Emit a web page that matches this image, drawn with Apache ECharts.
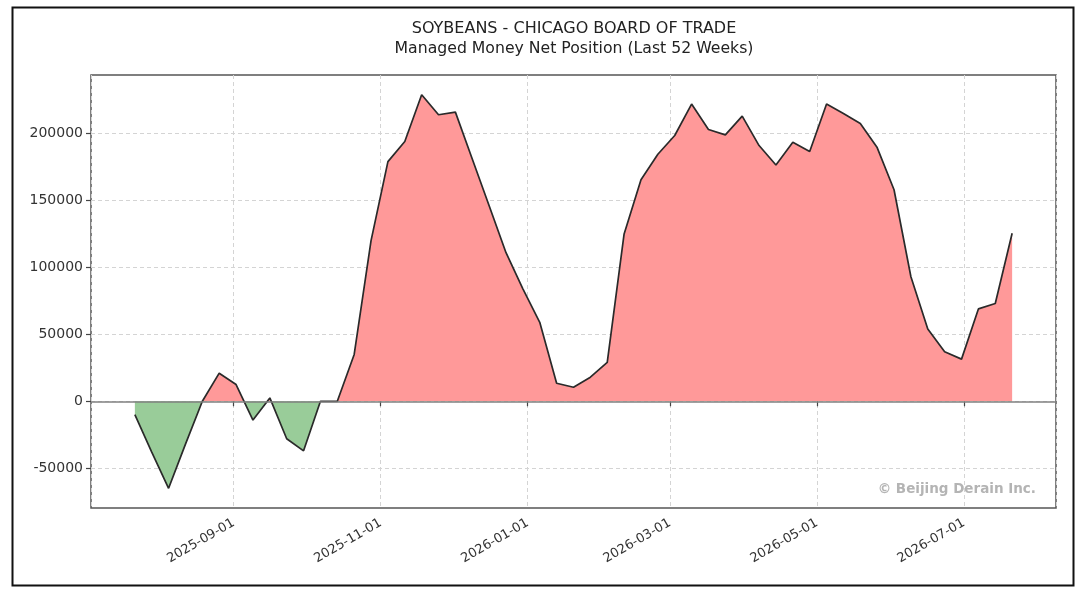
<!DOCTYPE html>
<html>
<head>
<meta charset="utf-8">
<title>Soybeans CBOT Managed Money</title>
<script src="https://cdn.jsdelivr.net/npm/echarts@6.0.0/dist/echarts.min.js"></script>
<style>
  html, body { margin: 0; padding: 0; background: #fff; }
  #main { width: 1083px; height: 595px; }
</style>
</head>
<body>
<div id="main"></div>
<script>
// weekly report dates (Tuesdays)
var weeks = [
    '2025-07-22', '2025-07-29', '2025-08-05', '2025-08-12', '2025-08-19', '2025-08-26',
    '2025-09-02', '2025-09-09', '2025-09-16', '2025-09-23', '2025-09-30',
    '2025-10-07', '2025-10-14', '2025-10-21', '2025-10-28',
    '2025-11-04', '2025-11-11', '2025-11-18', '2025-11-25',
    '2025-12-02', '2025-12-09', '2025-12-16', '2025-12-23', '2025-12-30',
    '2026-01-06', '2026-01-13', '2026-01-20', '2026-01-27',
    '2026-02-03', '2026-02-10', '2026-02-17', '2026-02-24',
    '2026-03-03', '2026-03-10', '2026-03-17', '2026-03-24', '2026-03-31',
    '2026-04-07', '2026-04-14', '2026-04-21', '2026-04-28',
    '2026-05-05', '2026-05-12', '2026-05-19', '2026-05-26',
    '2026-06-02', '2026-06-09', '2026-06-16', '2026-06-23', '2026-06-30',
    '2026-07-07', '2026-07-14', '2026-07-21'
];

// managed money net position (contracts)
var netPosition = [
    -10000, -38000, -65000, -32000, 0, 21000,
    12500, -14000, 2500, -28000, -37000,
    0, 0, 35000, 120000,
    179000, 194000, 229000, 214000,
    216000, 181000, 146000, 111000, 84000,
    59000, 13500, 10500, 18000,
    29000, 125000, 165500, 184500,
    198500, 222000, 203000, 199000, 213000,
    191000, 176500, 193500, 186500,
    222000, 215000, 207500, 189500,
    158000, 93000, 54000, 37000, 31500,
    69000, 73000, 125500
];

var yTicks = [-50000, 0, 50000, 100000, 150000, 200000];

function ts(s) {
    var p = s.split('-');
    return Date.UTC(+p[0], +p[1] - 1, +p[2]);
}

function fmtDate(v) {
    var d = new Date(v);
    var m = d.getUTCMonth() + 1, day = d.getUTCDate();
    return d.getUTCFullYear() + '-' + (m < 10 ? '0' + m : m) + '-' + (day < 10 ? '0' + day : day);
}

var seriesData = weeks.map(function (w, i) { return [ts(w), netPosition[i]]; });

// 5% padding either side, like matplotlib's autoscale
var xFirst = ts(weeks[0]), xLast = ts(weeks[weeks.length - 1]);
var xPad = (xLast - xFirst) * 0.05;
var yMax = Math.max.apply(null, netPosition), yMin = Math.min.apply(null, netPosition);
var yPad = (yMax - yMin) * 0.05;

var font = 'DejaVu Sans';

var myChart = echarts.init(document.getElementById('main'));
var option = {
    useUTC: true,
    animation: false,
    backgroundColor: '#ffffff',
    title: {
        text: 'SOYBEANS - CHICAGO BOARD OF TRADE',
        subtext: 'Managed Money Net Position (Last 52 Weeks)',
        left: 569,
        top: 16,
        textAlign: 'center',
        itemGap: 4,
        textStyle: { fontFamily: font, fontSize: 16, fontWeight: 'normal', color: '#222' },
        subtextStyle: { fontFamily: font, fontSize: 15.7, color: '#222' }
    },
    grid: {
        left: 91,
        right: 27,
        top: 75,
        bottom: 87,
        show: true,
        borderColor: '#555',
        borderWidth: 1.5,
        backgroundColor: '#fff'
    },
    visualMap: {
        show: false,
        type: 'piecewise',
        seriesIndex: 0,
        dimension: 1,
        pieces: [
            { gte: -1000000, lte: 0, color: '#99cc99' },
            { gt: 0, lte: 1000000, color: '#ff9999' }
        ]
    },
    xAxis: {
        type: 'time',
        min: xFirst - xPad,
        max: xLast + xPad,
        axisLine: { show: false },
        axisTick: {
            show: true,
            length: 5,
            lineStyle: { color: '#444', width: 1.2 }
        },
        axisLabel: {
            rotate: 30,
            margin: 14,
            fontFamily: font,
            fontSize: 13,
            color: '#333',
            formatter: fmtDate
        },
        splitLine: {
            show: true,
            lineStyle: { color: '#d4d4d4', type: [4, 3], width: 1 }
        }
    },
    yAxis: {
        type: 'value',
        min: yMin - yPad,
        max: yMax + yPad,
        axisLine: { show: false },
        axisTick: {
            show: true,
            length: 5,
            customValues: yTicks,
            lineStyle: { color: '#444', width: 1.2 }
        },
        axisLabel: {
            customValues: yTicks,
            margin: 8,
            fontFamily: font,
            fontSize: 14,
            color: '#333',
            formatter: function (v) { return String(Math.round(v)); }
        },
        splitLine: {
            show: true,
            lineStyle: { color: '#d4d4d4', type: [4, 3], width: 1 }
        }
    },
    series: [
        {
            name: 'Net Position',
            type: 'line',
            data: seriesData,
            showSymbol: false,
            symbol: 'none',
            lineStyle: { color: '#2a2a2a', width: 1.7 },
            areaStyle: { opacity: 1 },
            markLine: {
                silent: true,
                symbol: ['none', 'none'],
                label: { show: false },
                lineStyle: { color: '#808080', type: 'solid', width: 1.5 },
                data: [{ yAxis: 0 }]
            }
        }
    ],
    graphic: [
        {
            type: 'text',
            right: 47,
            top: 482,
            style: {
                text: '\u00a9 Beijing Derain Inc.',
                fontFamily: font,
                fontSize: 13.5,
                fontWeight: 'bold',
                fill: '#b4b4b4'
            }
        },
        {
            type: 'rect',
            left: 10,
            top: 5,
            shape: { width: 1061, height: 578 },
            style: { fill: 'none', stroke: '#111', lineWidth: 2 }
        }
    ]
};

myChart.setOption(option);
</script>
</body>
</html>
